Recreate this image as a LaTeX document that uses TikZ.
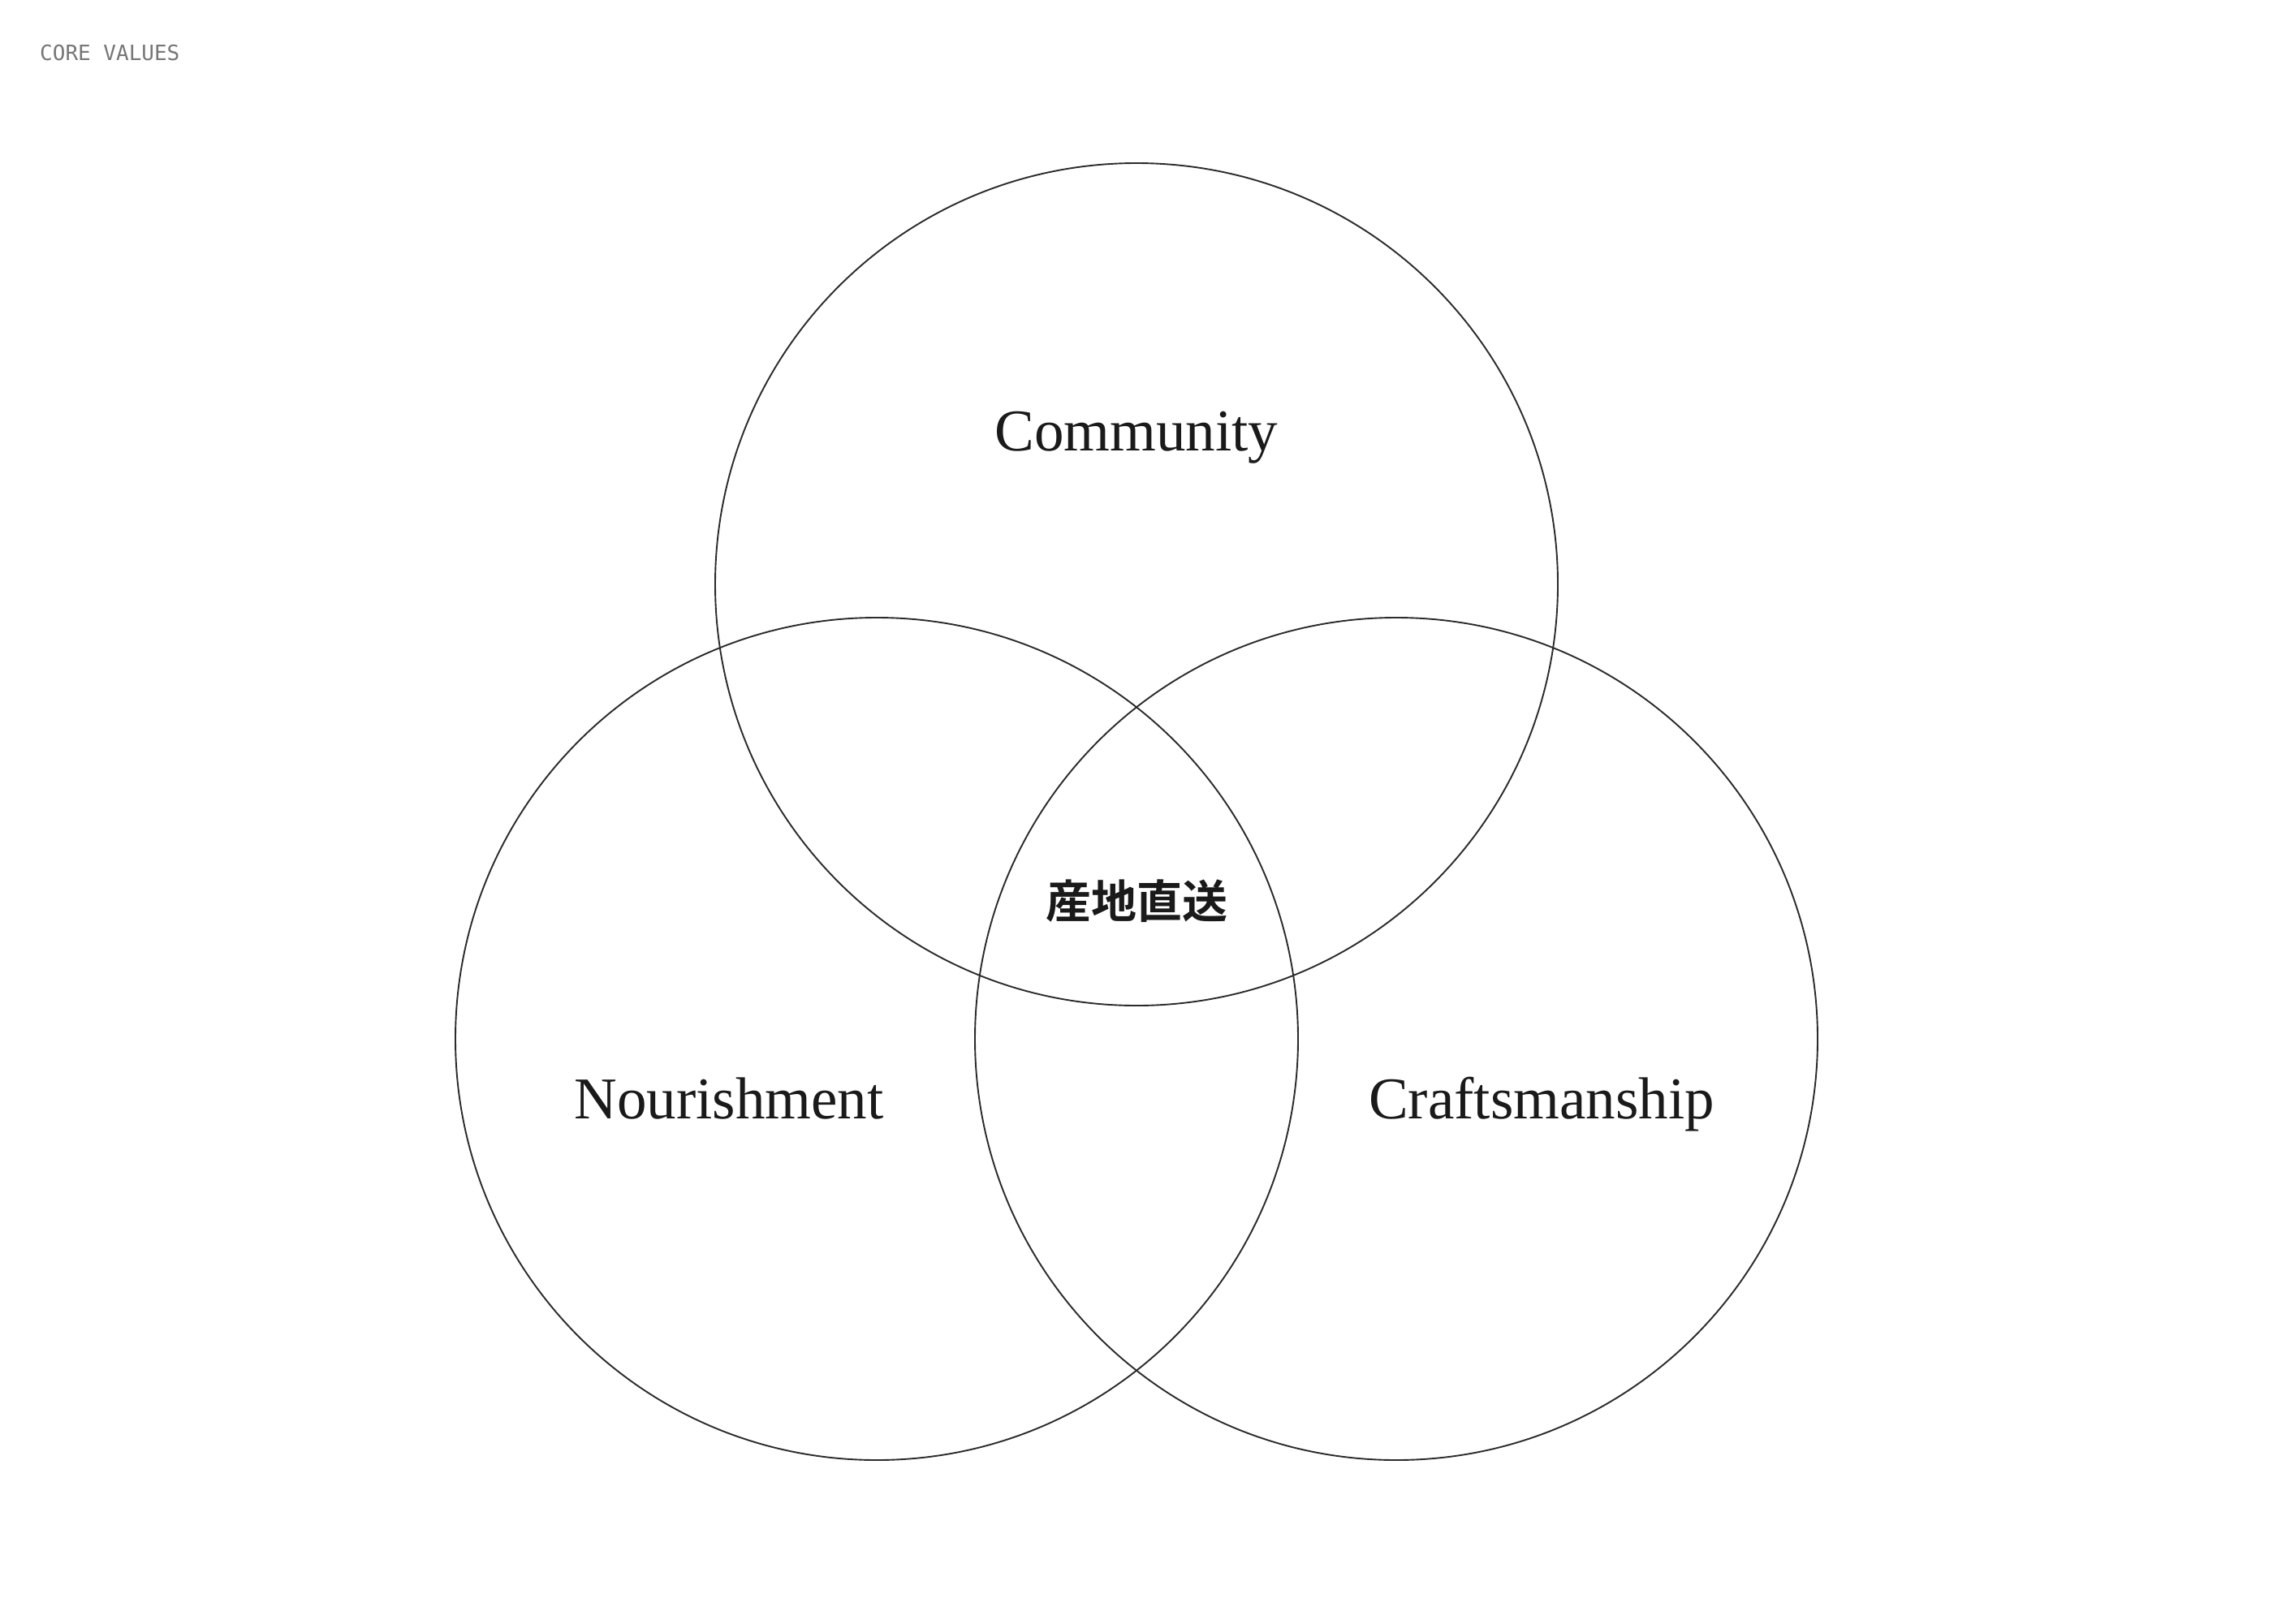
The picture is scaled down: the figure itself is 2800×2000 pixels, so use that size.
\documentclass[tikz,border=0pt]{standalone}
\usepackage{fontspec}
\setmainfont{Liberation Serif}
\newfontfamily\monofont{DejaVu Sans Mono}
\newfontfamily\cjkfont{Noto Sans CJK JP}[BoldFont={Noto Sans CJK JP Bold}]
\definecolor{ink}{HTML}{1A1A1A}
\definecolor{ring}{HTML}{2B2B2B}
\definecolor{labelgray}{HTML}{777777}
\begin{document}
\begin{tikzpicture}[x=1pt,y=-1pt,
  valuering/.style={draw=ring,line width=1.9pt},
  valuelabel/.style={anchor=base,inner sep=0pt,text=ink,font=\fontsize{73}{80}\selectfont},
  corelabel/.style={anchor=center,inner sep=0pt,text=ink,font=\cjkfont\bfseries\fontsize{56}{60}\selectfont},
  headlabel/.style={anchor=base west,inner sep=0pt,text=labelgray,font=\monofont\fontsize{26}{30}\selectfont}]
\useasboundingbox (0,0) rectangle (2800,2000);
\fill[white] (0,0) rectangle (2800,2000);
\node[headlabel] (head) at (49,74) {CORE VALUES};
\node[valuering,circle,minimum size=1038pt,inner sep=0pt] (community) at (1400,720) {};
\node[valuering,circle,minimum size=1038pt,inner sep=0pt] (nourish) at (1080,1280) {};
\node[valuering,circle,minimum size=1038pt,inner sep=0pt] (craft) at (1720,1280) {};
\node[valuelabel] (tcommunity) at (1400,555) {Community};
\node[valuelabel] (tnourish) at (898,1378) {Nourishment};
\node[valuelabel] (tcraft) at (1899,1378) {Craftsmanship};
\node[corelabel] (core) at (1400,1110) {産地直送};
\end{tikzpicture}
\end{document}
